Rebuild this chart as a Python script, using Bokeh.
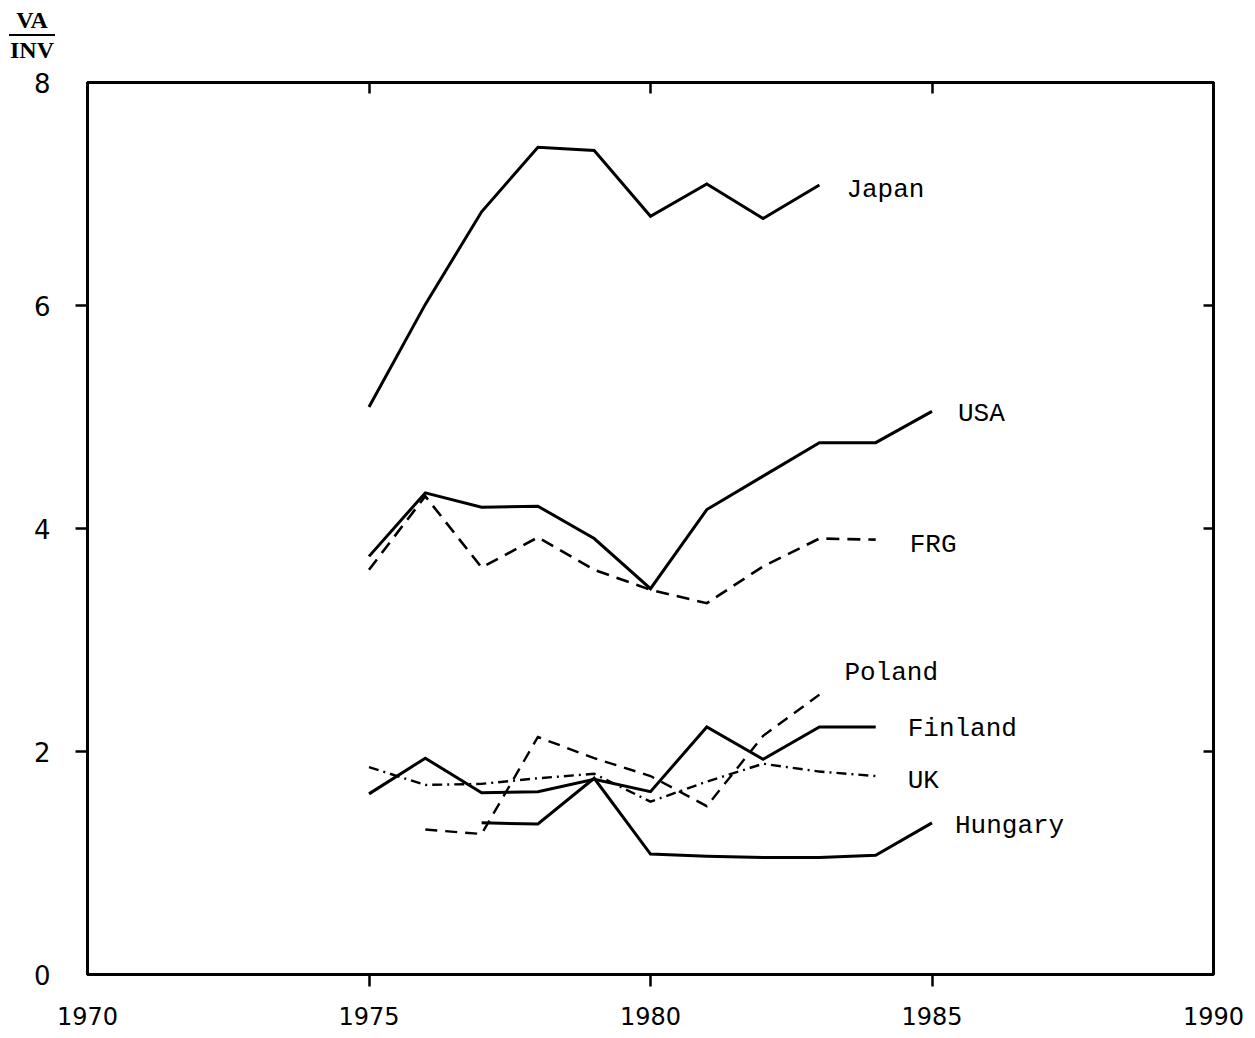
from bokeh.plotting import figure
from bokeh.models import (Range1d, LinearAxis, FixedTicker, ColumnDataSource, Div)
from bokeh.layouts import column
from bokeh.core.properties import value
from bokeh.embed import file_html
from bokeh.resources import INLINE

# ---- data ----
japan_years = [1975, 1976, 1977, 1978, 1979, 1980, 1981, 1982, 1983]
japan_vals = [5.09, 6.01, 6.84, 7.42, 7.39, 6.80, 7.09, 6.78, 7.08]

usa_years = [1975, 1976, 1977, 1978, 1979, 1980, 1981, 1982, 1983, 1984, 1985]
usa_vals = [3.75, 4.32, 4.19, 4.20, 3.91, 3.46, 4.17, 4.47, 4.77, 4.77, 5.05]

frg_years = [1975, 1976, 1977, 1978, 1979, 1980, 1981, 1982, 1983, 1984]
frg_vals = [3.63, 4.29, 3.65, 3.92, 3.63, 3.45, 3.33, 3.66, 3.91, 3.90]

poland_years = [1976, 1977, 1978, 1979, 1980, 1981, 1982, 1983]
poland_vals = [1.30, 1.26, 2.13, 1.94, 1.78, 1.51, 2.14, 2.51]

finland_years = [1975, 1976, 1977, 1978, 1979, 1980, 1981, 1982, 1983, 1984]
finland_vals = [1.62, 1.94, 1.63, 1.64, 1.75, 1.64, 2.22, 1.93, 2.22, 2.22]

uk_years = [1975, 1976, 1977, 1978, 1979, 1980, 1981, 1982, 1983, 1984]
uk_vals = [1.86, 1.70, 1.71, 1.76, 1.80, 1.55, 1.73, 1.89, 1.82, 1.78]

hungary_years = [1977, 1978, 1979, 1980, 1981, 1982, 1983, 1984, 1985]
hungary_vals = [1.36, 1.35, 1.76, 1.08, 1.06, 1.05, 1.05, 1.07, 1.36]

x_ticks = [1970, 1975, 1980, 1985, 1990]
y_ticks = [0, 2, 4, 6, 8]
y_unit_top = "VA"
y_unit_bottom = "INV"

series = [
    ("Japan", japan_years, japan_vals),
    ("USA", usa_years, usa_vals),
    ("FRG", frg_years, frg_vals),
    ("Poland", poland_years, poland_vals),
    ("Finland", finland_years, finland_vals),
    ("UK", uk_years, uk_vals),
    ("Hungary", hungary_years, hungary_vals),
]

# ---- styles ----
styles = {
    "Japan": dict(line_width=3.0, line_dash="solid"),
    "USA": dict(line_width=3.0, line_dash="solid"),
    "FRG": dict(line_width=2.6, line_dash="13 8"),
    "Poland": dict(line_width=2.4, line_dash="12 8"),
    "Finland": dict(line_width=3.0, line_dash="solid"),
    "UK": dict(line_width=2.4, line_dash="10 5 2 5"),
    "Hungary": dict(line_width=3.0, line_dash="solid"),
}
label_offsets = {  # pixel offsets of the name from the series' last point
    "Japan": (27, 5), "USA": (26, 3), "FRG": (34, 5), "Poland": (25, -22),
    "Finland": (32, 2), "UK": (32, 5), "Hungary": (23, 3),
}

HEADER_H = 70

header = Div(
    text=(
        '<div style="margin:0 0 0 9px;width:46px;font-family:\'Liberation Serif\';'
        'font-size:24px;font-weight:bold;text-align:center;line-height:1;color:black;">'
        '<div style="padding-top:8px;padding-bottom:2px;border-bottom:2px solid black;">'
        + y_unit_top + '</div>'
        '<div style="padding-top:2px;">' + y_unit_bottom + '</div></div>'
    ),
    width=1250, height=HEADER_H, margin=(0, 0, 0, 0),
)

p = figure(width=1250, height=1036 - HEADER_H, output_backend="svg",
           toolbar_location=None,
           x_range=Range1d(1970, 1990), y_range=Range1d(0, 8),
           min_border_left=87, min_border_top=82 - HEADER_H, min_border_right=37,
           min_border_bottom=62, x_axis_location=None, y_axis_location=None,
           margin=(0, 0, 0, 0))
p.grid.visible = False
p.outline_line_color = "black"
p.outline_line_width = 3
p.background_fill_color = "white"
p.border_fill_color = "white"

tick_font = "DejaVu Sans"

# bottom axis
xb = LinearAxis(ticker=FixedTicker(ticks=x_ticks, minor_ticks=[1975, 1980, 1985]))
xb.axis_line_width = 3
xb.major_tick_out = 0
xb.major_tick_in = 0
xb.minor_tick_out = 12
xb.minor_tick_in = 0
xb.minor_tick_line_width = 2.5
xb.major_label_standoff = 20
xb.major_label_text_font = tick_font
xb.major_label_text_font_size = "24px"
xb.major_label_text_color = "black"
p.add_layout(xb, "below")

# left axis
yl = LinearAxis(ticker=FixedTicker(ticks=y_ticks, minor_ticks=[2, 4, 6]))
yl.axis_line_width = 3
yl.major_tick_out = 0
yl.major_tick_in = 0
yl.minor_tick_out = 12
yl.minor_tick_in = 0
yl.minor_tick_line_width = 2.5
yl.major_label_standoff = 25
yl.major_label_text_font = tick_font
yl.major_label_text_font_size = "26px"
yl.major_label_text_color = "black"
p.add_layout(yl, "left")

# top axis (ticks only, inward)
xt = LinearAxis(ticker=FixedTicker(ticks=[1975, 1980, 1985]))
xt.axis_line_width = 3
xt.major_tick_out = 0
xt.major_tick_in = 11
xt.major_tick_line_width = 2.5
xt.minor_tick_line_color = None
xt.major_label_text_color = None
xt.major_label_text_font_size = "1px"
xt.major_label_standoff = 0
p.add_layout(xt, "above")

# right axis (ticks only, inward)
yr = LinearAxis(ticker=FixedTicker(ticks=[2, 4, 6]))
yr.axis_line_width = 3
yr.major_tick_out = 0
yr.major_tick_in = 10
yr.major_tick_line_width = 2.5
yr.minor_tick_line_color = None
yr.major_label_text_color = None
yr.major_label_text_font_size = "1px"
yr.major_label_standoff = 0
p.add_layout(yr, "right")

# series
names, lx, ly, xo, yo = [], [], [], [], []
for name, xs, ys in series:
    st = styles[name]
    p.line(xs, ys, line_color="black", line_width=st["line_width"],
           line_dash=st["line_dash"], line_join="miter")
    names.append(name)
    lx.append(xs[-1])
    ly.append(ys[-1])
    xo.append(label_offsets[name][0])
    yo.append(label_offsets[name][1])

src = ColumnDataSource(dict(x=lx, y=ly, text=names, xo=xo, yo=yo))
p.text(x="x", y="y", text="text", x_offset="xo", y_offset="yo", source=src,
       text_font=value("Liberation Mono"), text_font_size="26px",
       text_color="black", text_align="left", text_baseline="middle")

layout = column(header, p, spacing=0, margin=(0, 0, 0, 0))
open("out.html", "w").write(file_html(layout, INLINE))
